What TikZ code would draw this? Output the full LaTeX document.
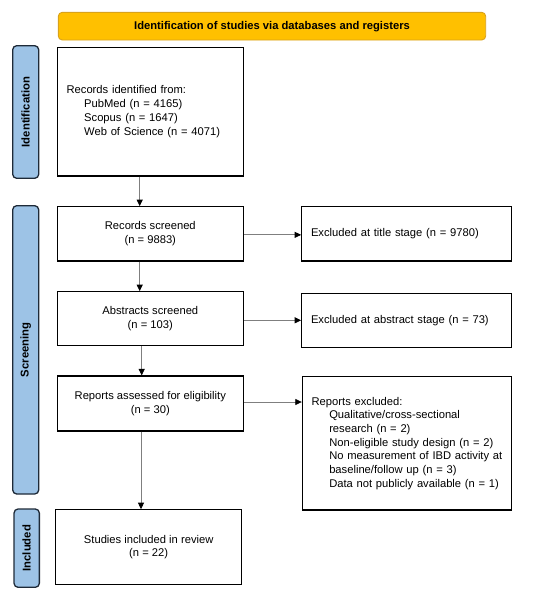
\documentclass[tikz,border=0pt]{standalone}
\usepackage{fontspec}
\setmainfont{Liberation Sans}
\usetikzlibrary{arrows.meta}
\definecolor{headfill}{HTML}{FFC000}
\definecolor{headline}{HTML}{D9A21B}
\definecolor{labfill}{HTML}{9DC3E6}
\definecolor{labline}{HTML}{1E2A38}
\definecolor{arrline}{HTML}{7F7F7F}
\tikzset{
  box/.style={draw=black, line width=1.1pt, fill=white, inner xsep=9.3pt, inner ysep=2pt,
    font=\fontsize{11.2}{13.7}\selectfont},
  cbox/.style={box, align=center},
  lbox/.style={box, align=left},
  lab/.style={draw=labline, fill=labfill, line width=1.3pt, rounded corners=4pt,
    rotate=90, inner sep=0pt, font=\bfseries\fontsize{11.3}{13}\selectfont},
  head/.style={draw=headline, fill=headfill, line width=0.9pt, rounded corners=4pt,
    inner sep=0pt, font=\bfseries\fontsize{11.2}{13.7}\selectfont},
  arr/.style={draw=arrline, line width=0.8pt,
    -{Triangle[color=black, length=6.5pt, width=6pt]}},
}
\begin{document}
\begin{tikzpicture}[x=1pt, y=-1pt]
\useasboundingbox (0,0) rectangle (550,597);

\node[head, minimum width=427.4pt, minimum height=27.7pt] (head) at (272,26.15)
  {Identification of studies via databases and registers};

\node[lab, minimum width=132.6pt, minimum height=26pt] (labId) at (25.7,112) {Identification};
\node[lab, minimum width=288.3pt, minimum height=26pt] (labScr) at (25.7,349.85) {Screening};
\node[lab, minimum width=78.3pt, minimum height=25.3pt] (labInc) at (26.7,548.15) {Included};

\node[lbox, text width=167.4pt, minimum height=128.7pt] (b1) at (150.3,111.65)
  {Records identified from:\\
   \hspace*{17.6pt}PubMed (n = 4165)\\
   \hspace*{17.6pt}Scopus (n = 1647)\\
   \hspace*{17.6pt}Web of Science (n = 4071)\\[13pt]};

\node[cbox, minimum width=186pt, minimum height=54.3pt] (b2) at (150.3,233.85)
  {Records screened\\(n = 9883)};
\node[cbox, minimum width=186pt, minimum height=54pt] (b3) at (150.3,318.7)
  {Abstracts screened\\(n = 103)};
\node[cbox, minimum width=186pt, minimum height=55pt] (b4) at (150.3,403.5)
  {Reports assessed for eligibility\\(n = 30)};
\node[cbox, minimum width=186pt, minimum height=74.5pt] (b5) at (148.7,547)
  {Studies included in review\\(n = 22)};

\node[lbox, text width=191.4pt, minimum height=54.3pt] (r1) at (406.7,233.85)
  {Excluded at title stage (n = 9780)};
\node[lbox, text width=191.4pt, minimum height=54pt] (r2) at (406.7,320.3)
  {Excluded at abstract stage (n = 73)};
\node[lbox, text width=190.1pt, minimum height=133.3pt] (r3) at (406.7,443.35)
  {\mbox{Reports excluded:}\\
   \mbox{\hspace*{17.6pt}Qualitative/cross-sectional}\\
   \mbox{\hspace*{17.6pt}research (n = 2)}\\
   \mbox{\hspace*{17.6pt}Non-eligible study design (n = 2)}\\
   \mbox{\hspace*{17.6pt}No measurement of IBD activity at}\\
   \mbox{\hspace*{17.6pt}baseline/follow up (n = 3)}\\
   \mbox{\hspace*{17.6pt}Data not publicly available (n = 1)}};

\draw[arr] ([xshift=-10.6pt]b1.south) -- ([xshift=-10.6pt]b1.south |- b2.north);
\draw[arr] ([xshift=-10.6pt]b2.south) -- ([xshift=-10.6pt]b2.south |- b3.north);
\draw[arr] ([xshift=-8.6pt]b3.south) -- ([xshift=-8.6pt]b3.south |- b4.north);
\draw[arr] ([xshift=-9.3pt]b4.south) -- ([xshift=-9.3pt]b4.south |- b5.north);

\draw[arr] ([yshift=-1pt]b2.east) -- ([yshift=-1pt]b2.east -| r1.west);
\draw[arr] (b3.east |- r2.west) -- (r2.west);
\draw[arr] ([yshift=1.5pt]b4.east) -- ([yshift=1.5pt]b4.east -| r3.west);
\end{tikzpicture}
\end{document}
